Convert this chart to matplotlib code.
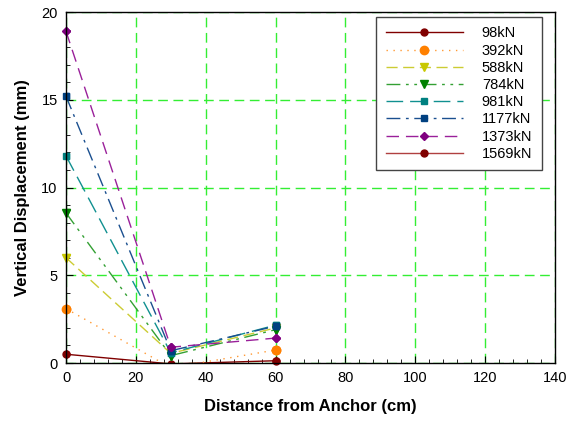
import numpy as np
import matplotlib.pyplot as plt
from matplotlib.ticker import MultipleLocator

plt.rcParams['font.family'] = ['Liberation Sans', 'DejaVu Sans']

distance = [0, 30, 60]
loads = ["98kN", "392kN", "588kN", "784kN", "981kN", "1177kN", "1373kN", "1569kN"]
disp_98 = [0.5, -0.05, 0.13]
disp_392 = [3.1, -0.27, 0.74]
disp_588 = [6.0, 0.55, 2.0]
disp_784 = [8.55, 0.42, 1.9]
disp_981 = [11.8, 0.58, 2.16]
disp_1177 = [15.2, 0.7, 2.1]
disp_1373 = [18.9, 0.9, 1.42]
disp_1569 = []

series = [disp_98, disp_392, disp_588, disp_784, disp_981, disp_1177, disp_1373, disp_1569]
line_colors = ["#800000", "#ff9933", "#cccc33", "#33a033", "#109090", "#1a4f8f", "#9a209a", "#b04040"]
marker_colors = ["#800000", "#ff8000", "#c8c800", "#008000", "#008080", "#004080", "#800080", "#800000"]
markers = ["o", "o", "v", "v", "s", "s", "D", "o"]
styles = ["-", (0, (1, 4)), (0, (8, 4)), (0, (10, 4, 2, 4, 2, 4)), (0, (12, 5)),
          (0, (10, 4, 2, 4)), (0, (9, 5)), "-"]
msizes = [5, 6, 6, 6, 5, 5, 4.5, 5]

fig = plt.figure(figsize=(5.76, 4.23), dpi=100)
ax = fig.add_axes([0.1146, 0.1418, 0.849, 0.8298])

for vals, lab, lc, mc, mk, ls, ms in zip(series, loads, line_colors, marker_colors,
                                         markers, styles, msizes):
    x = np.array(distance[:len(vals)], dtype=float)
    y = np.array(vals, dtype=float)
    ax.plot(x, y, color=lc, linestyle=ls, linewidth=1.0,
            marker=mk, markersize=ms, markerfacecolor=mc, markeredgecolor=mc,
            label=lab)
    # markers on the axis edge are not cut off
    keep = y >= 0
    m = ax.plot(x[keep], y[keep], linestyle="none", marker=mk, markersize=ms,
                markerfacecolor=mc, markeredgecolor=mc)
    m[0].set_clip_on(False)

ax.set_xlim(0, 140)
ax.set_ylim(0, 20)
ax.xaxis.set_major_locator(MultipleLocator(20))
ax.xaxis.set_minor_locator(MultipleLocator(4))
ax.yaxis.set_major_locator(MultipleLocator(5))
ax.yaxis.set_minor_locator(MultipleLocator(1))
ax.tick_params(which="both", direction="in", labelsize=10.5, colors="black")
ax.tick_params(which="major", length=5, pad=6)
ax.tick_params(which="minor", length=3)
ax.grid(which="major", color="#33ee33", linestyle=(0, (7, 4)), linewidth=1.0)
ax.set_axisbelow(True)
for sp in ax.spines.values():
    sp.set_linewidth(1.0)

ax.set_xlabel("Distance from Anchor (cm)", fontsize=12, fontweight="bold", labelpad=10)
ax.set_ylabel("Vertical Displacement (mm)", fontsize=12, fontweight="bold", labelpad=8)

leg = ax.legend(loc="upper right", bbox_to_anchor=(0.973, 0.986), borderaxespad=0,
                fontsize=10.5, handlelength=5.3, handletextpad=1.3, labelspacing=0.22,
                borderpad=0.65, fancybox=False, framealpha=1, edgecolor="#444444")
leg.get_frame().set_linewidth(1.0)

fig.savefig("out.png", dpi=100)
